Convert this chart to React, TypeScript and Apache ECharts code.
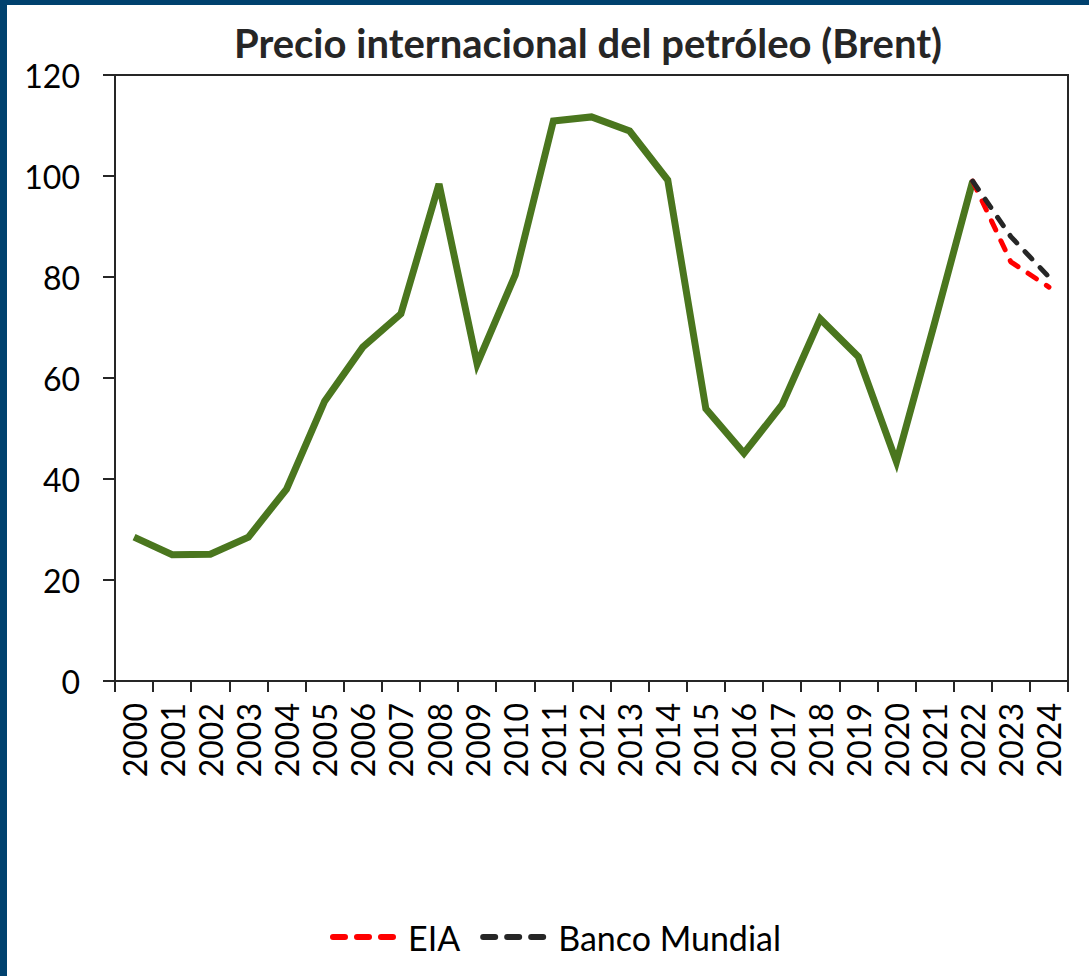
import React, { useEffect, useRef } from "react";
import * as echarts from "echarts";

const years = [
  "2000", "2001", "2002", "2003", "2004", "2005", "2006", "2007", "2008", "2009",
  "2010", "2011", "2012", "2013", "2014", "2015", "2016", "2017", "2018", "2019",
  "2020", "2021", "2022", "2023", "2024",
];

const brent = [
  28.5, 25.0, 25.1, 28.5, 38.0, 55.4, 66.1, 72.7, 98.4, 62.8,
  80.4, 110.9, 111.7, 108.9, 99.2, 53.9, 45.1, 54.7, 71.7, 64.2,
  43.4, 70.9, 99.0, null, null,
];

const eia = [
  null, null, null, null, null, null, null, null, null, null,
  null, null, null, null, null, null, null, null, null, null,
  null, null, 99.0, 83.0, 78.0,
];

const bancoMundial = [
  null, null, null, null, null, null, null, null, null, null,
  null, null, null, null, null, null, null, null, null, null,
  null, null, 99.0, 88.0, 80.0,
];

const yTicks = { min: 0, max: 120, interval: 20 };

const dashIcon =
  "path://M3,0H15A3,3 0 0 1 15,6H3A3,3 0 0 1 3,0Z" +
  "M27,0H39A3,3 0 0 1 39,6H27A3,3 0 0 1 27,0Z" +
  "M51,0H63A3,3 0 0 1 63,6H51A3,3 0 0 1 51,0Z";

export default function App() {
  const ref = useRef<HTMLDivElement>(null);
  useEffect(() => {
    if (!ref.current) return;
    const chart = echarts.init(ref.current, null, { renderer: "svg" });
    const font = "Lato, 'Open Sans', sans-serif";
    chart.setOption({
      animation: false,
      backgroundColor: "#ffffff",
      title: {
        text: "Precio internacional del petróleo (Brent)",
        left: 583,
        textAlign: "center",
        top: 18,
        textStyle: { fontFamily: font, fontSize: 40, fontWeight: "bold", color: "#262626" },
      },
      graphic: [
        { type: "rect", left: 0, top: 0, shape: { width: 7, height: 976 }, style: { fill: "#00416e" } },
        { type: "rect", left: 0, top: 0, shape: { width: 1089, height: 5 }, style: { fill: "#00416e" } },
      ],
      legend: {
        data: [
          { name: "EIA", icon: dashIcon, itemStyle: { color: "#ff0000" } },
          { name: "Banco Mundial", icon: dashIcon, itemStyle: { color: "#262626" } },
        ],
        left: 325,
        top: 915,
        itemWidth: 66,
        itemHeight: 6,
        itemGap: 20,
        textStyle: { fontFamily: font, fontSize: 34, color: "#000000", padding: [0, 0, 0, 7] },
      },
      grid: {
        left: 115,
        top: 75,
        right: 21,
        bottom: 295,
        show: true,
        borderColor: "#262626",
        borderWidth: 2,
        backgroundColor: "transparent",
      },
      xAxis: {
        type: "category",
        data: years,
        boundaryGap: true,
        axisLine: { show: true, lineStyle: { color: "#262626", width: 2 } },
        axisTick: { show: true, length: 11, interval: 0, lineStyle: { color: "#262626", width: 2 } },
        axisLabel: {
          interval: 0,
          rotate: 90,
          margin: 22,
          fontFamily: font,
          fontSize: 32,
          color: "#000000",
        },
        splitLine: { show: false },
      },
      yAxis: {
        type: "value",
        min: yTicks.min,
        max: yTicks.max,
        interval: yTicks.interval,
        axisLine: { show: true, lineStyle: { color: "#262626", width: 2 } },
        axisTick: { show: true, length: 12, lineStyle: { color: "#262626", width: 2 } },
        axisLabel: { margin: 35, fontFamily: font, fontSize: 32, color: "#000000" },
        splitLine: { show: false },
      },
      series: [
        {
          name: "Brent",
          type: "line",
          data: brent,
          symbol: "none",
          lineStyle: { color: "#4a761e", width: 7, join: "miter" },
          itemStyle: { color: "#4a761e" },
          z: 2,
        },
        {
          name: "EIA",
          type: "line",
          data: eia,
          symbol: "none",
          lineStyle: { color: "#ff0000", width: 5, type: [10, 12], cap: "round" },
          itemStyle: { color: "#ff0000" },
          z: 3,
        },
        {
          name: "Banco Mundial",
          type: "line",
          data: bancoMundial,
          symbol: "none",
          lineStyle: { color: "#262626", width: 5, type: [10, 12], cap: "round" },
          itemStyle: { color: "#262626" },
          z: 4,
        },
      ],
    });
    return () => chart.dispose();
  }, []);
  return (
    <div
      ref={ref}
      style={{ position: "fixed", left: 0, top: 0, width: 1089, height: 976, background: "#fff" }}
    />
  );
}
